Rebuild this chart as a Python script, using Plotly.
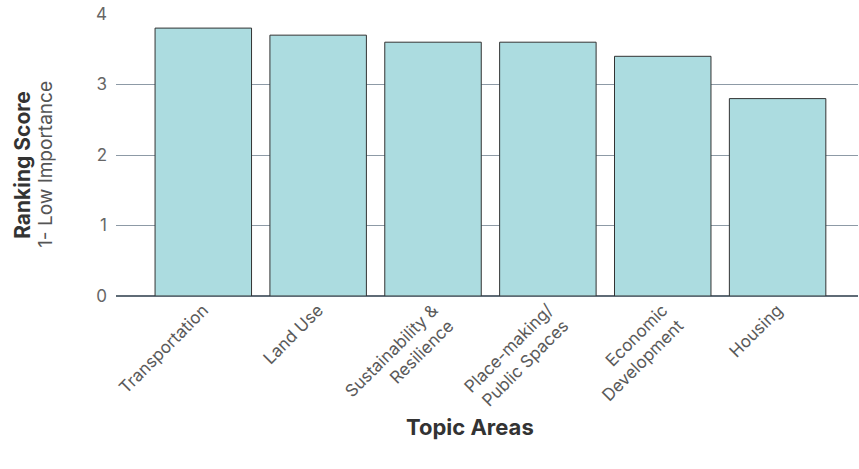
import plotly.graph_objects as go

# Topic areas and their average ranking scores
topics = [
    "Transportation",
    "Land Use",
    "Sustainability &<br>Resilience",
    "Place-making/<br>Public Spaces",
    "Economic<br>Development",
    "Housing",
]
scores = [3.8, 3.7, 3.6, 3.6, 3.4, 2.8]
y_ticks = [0, 1, 2, 3, 4]

FONT = "Inter, 'Open Sans', sans-serif"

fig = go.Figure(
    go.Bar(
        x=list(range(len(topics))),
        y=scores,
        marker=dict(color="#acdce0", line=dict(color="#333333", width=1)),
        width=0.84,
        hoverinfo="y",
    )
)

fig.update_layout(
    width=859,
    height=469,
    margin=dict(l=116, r=1, t=14, b=173),
    paper_bgcolor="white",
    plot_bgcolor="white",
    font=dict(family=FONT, color="#555555"),
    showlegend=False,
    xaxis=dict(
        range=[-0.76, 5.7],
        tickmode="array",
        tickvals=list(range(len(topics))),
        ticktext=topics,
        tickangle=-45,
        tickfont=dict(size=17, color="#5a5a5a"),
        showgrid=False,
        zeroline=False,
        showline=False,
        ticks="",
    ),
    yaxis=dict(
        range=[0, 4],
        tickvals=y_ticks,
        tickfont=dict(size=17, color="#666666"),
        ticklabelstandoff=8,
        showgrid=True,
        gridcolor="#8d9aa6",
        gridwidth=1,
        zeroline=True,
        zerolinecolor="#5f6b76",
        zerolinewidth=2,
        showline=False,
        ticks="",
    ),
    annotations=[
        dict(
            text="<b>Topic Areas</b>",
            xref="paper", yref="paper",
            x=(470 - 116) / 742, y=(296 - 427) / 282,
            showarrow=False,
            xanchor="center", yanchor="middle",
            font=dict(size=22, color="#333333", family=FONT),
        ),
        dict(
            text="<b>Ranking Score</b>",
            xref="paper", yref="paper",
            x=(23 - 116) / 742, y=0.465,
            textangle=-90, showarrow=False,
            xanchor="center", yanchor="middle",
            font=dict(size=21, color="#333333", family=FONT),
        ),
        dict(
            text="1- Low Importance",
            xref="paper", yref="paper",
            x=(46 - 116) / 742, y=0.465,
            textangle=-90, showarrow=False,
            xanchor="center", yanchor="middle",
            font=dict(size=19, color="#555555", family=FONT),
        ),
    ],
)

fig.write_html("out.html")
